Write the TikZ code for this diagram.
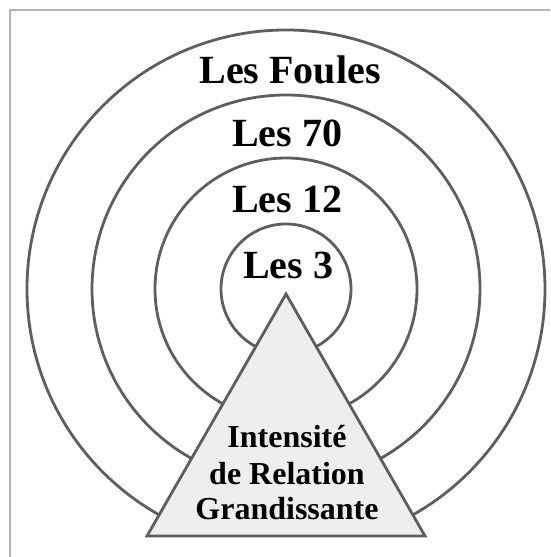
\documentclass[tikz,border=0pt]{standalone}
\usepackage{fontspec}
\setmainfont{Liberation Serif}
\definecolor{ringgray}{HTML}{5E5E5E}
\definecolor{framegray}{HTML}{B4B4B4}
\definecolor{pyrfill}{HTML}{EEEEEE}
\tikzset{
  ring/.style={draw=ringgray, line width=2.8pt},
  lab/.style={font=\bfseries\fontsize{40}{40}\selectfont, inner sep=0pt, anchor=base},
  pyrtext/.style={font=\bfseries\fontsize{32}{36}\selectfont, align=center, inner sep=0pt}
}
\begin{document}
\begin{tikzpicture}[x=1pt,y=1pt]
  \useasboundingbox (0,0) rectangle (550,557);
  % cadre
  \draw [framegray, line width=1.5pt] (10,0) -- (10,547) -- (550,547) ;
  % cercles
  \coordinate (O) at (286,268) ;
  \begin{scope}
    \clip (0,21) rectangle (550,557) ;
    \foreach \r in {65,131,194,259}
      \draw [ring] (O) circle (\r) ;
  \end{scope}
  % noms
  \node [lab] (foules) at (290,473) {Les Foules};
  \node [lab] (soixante) at (287,410) {Les 70};
  \node [lab] (douze) at (287,344) {Les 12};
  \node [lab] (trois) at (288,278) {Les 3};
  % pyramide
  \coordinate (A) at (286,263) ;
  \coordinate (B) at (147,21) ;
  \coordinate (C) at (425,21) ;
  \draw [ring, fill=pyrfill, line join=miter] (A) -- (B) -- (C) -- cycle ;
  \node [pyrtext, anchor=base] (intensite) at (287,37) {Intensité\\de Relation\\Grandissante};
\end{tikzpicture}
\end{document}
